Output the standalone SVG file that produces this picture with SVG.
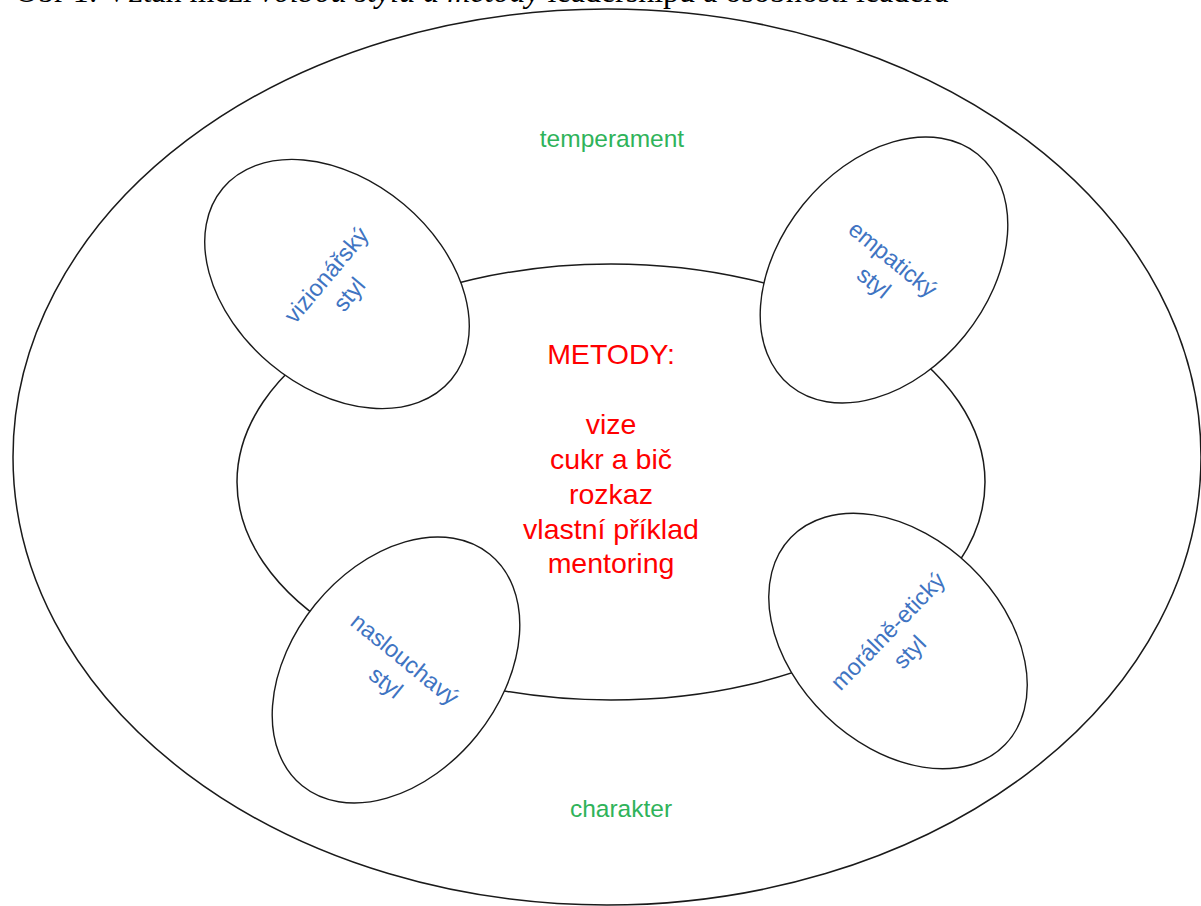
<svg xmlns="http://www.w3.org/2000/svg" width="1201" height="906" viewBox="0 0 1201 906">
  <style>
    .ring { fill: #ffffff; stroke: #1a1a1a; stroke-width: 1.5; }
    .style-node { fill: #ffffff; stroke: #1a1a1a; stroke-width: 1.4; }
    .trait { font-family: "Liberation Sans", Arial, sans-serif; font-size: 24.5px; fill: #2fb35a; text-anchor: middle; }
    .method { font-family: "Liberation Sans", Arial, sans-serif; font-size: 28.5px; fill: #ff0000; text-anchor: middle; }
    .style-label { font-family: "Liberation Sans", Arial, sans-serif; font-size: 23.5px; fill: #3f74c2; text-anchor: middle; }
    .caption { font-family: "Liberation Serif", "Times New Roman", serif; font-size: 32px; fill: #000000; }
  </style>

  <rect x="0" y="0" width="1201" height="906" fill="#ffffff"/>

  <!-- figure caption, mostly above the visible area -->
  <text class="caption" x="15" y="2">Obr 1: Vztah mezi <tspan font-style="italic">volbou stylu a metody</tspan> leadershipu a osobností leadera</text>

  <!-- personality: outer ring -->
  <g id="personality">
    <ellipse class="ring" cx="607" cy="457" rx="594" ry="448"/>
    <text class="trait" x="612" y="147">temperament</text>
    <text class="trait" x="621" y="817">charakter</text>
  </g>

  <!-- methods: central ellipse -->
  <g id="methods">
    <ellipse class="ring" cx="611" cy="482" rx="374" ry="218"/>
    <text class="method" x="611" y="364">METODY:</text>
    <text class="method" x="611" y="434">vize</text>
    <text class="method" x="611" y="469">cukr a bič</text>
    <text class="method" x="611" y="504">rozkaz</text>
    <text class="method" x="611" y="539">vlastní příklad</text>
    <text class="method" x="611" y="573">mentoring</text>
  </g>

  <!-- leadership styles sitting on the methods ellipse -->
  <g id="style-visionary" transform="translate(337 284) rotate(-50)">
    <ellipse class="style-node" cx="0" cy="0" rx="104" ry="149"/>
    <text class="style-label" x="0" y="-6">vizionářský</text>
    <text class="style-label" x="0" y="24">styl</text>
  </g>

  <g id="style-empathic" transform="translate(884 270) rotate(39)">
    <ellipse class="style-node" cx="0" cy="0" rx="104" ry="149"/>
    <text class="style-label" x="0" y="-6">empatický</text>
    <text class="style-label" x="0" y="24">styl</text>
  </g>

  <g id="style-listening" transform="translate(396 670) rotate(39)">
    <ellipse class="style-node" cx="0" cy="0" rx="104" ry="149"/>
    <text class="style-label" x="0" y="-6">naslouchavý</text>
    <text class="style-label" x="0" y="24">styl</text>
  </g>

  <g id="style-moral" transform="translate(898 641) rotate(-46)">
    <ellipse class="style-node" cx="0" cy="0" rx="104" ry="149"/>
    <text class="style-label" x="0" y="-6">morálně-etický</text>
    <text class="style-label" x="0" y="24">styl</text>
  </g>

  <g id="connectors"/>
</svg>
